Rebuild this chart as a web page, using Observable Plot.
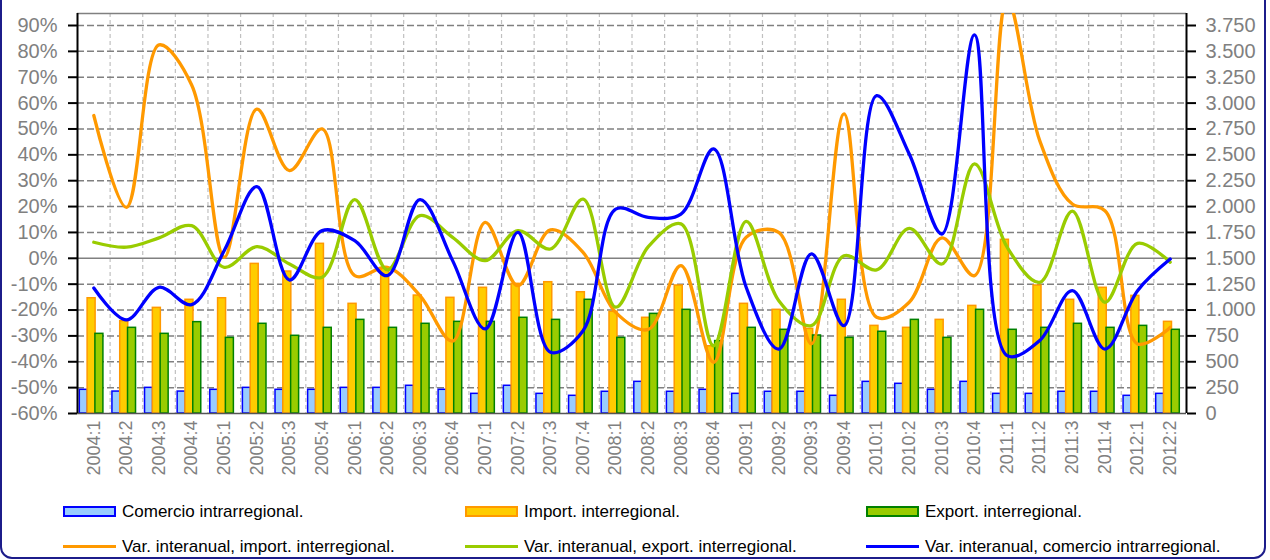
<!DOCTYPE html>
<html>
<head>
<meta charset="utf-8">
<script src="https://cdn.jsdelivr.net/npm/d3@7"></script>
<script src="https://cdn.jsdelivr.net/npm/@observablehq/plot@0.6"></script>
<style>
  html, body { margin: 0; padding: 0; background: #fff; }
  #wrap { position: relative; width: 1270px; height: 560px; overflow: hidden; font-family: "Liberation Sans", Arial, sans-serif; }
  #border { position: absolute; left: 0; top: -20px; width: 1266px; height: 579px; border: 2px solid #1c1c8a; border-radius: 12px; box-sizing: border-box; pointer-events: none; }
  #chart { position: absolute; left: 0; top: 0; }
  .leg { position: absolute; font-size: 17px; color: #000; white-space: nowrap; line-height: 18px; }
  .sw { position: absolute; box-sizing: border-box; }
</style>
</head>
<body>
<div id="wrap">
  <div id="chart"></div>
  <div id="legend"></div>
  <div id="border"></div>
</div>
<script>
// ---- data ----
const quarters = ["2004:1","2004:2","2004:3","2004:4","2005:1","2005:2","2005:3","2005:4",
  "2006:1","2006:2","2006:3","2006:4","2007:1","2007:2","2007:3","2007:4",
  "2008:1","2008:2","2008:3","2008:4","2009:1","2009:2","2009:3","2009:4",
  "2010:1","2010:2","2010:3","2010:4","2011:1","2011:2","2011:3","2011:4",
  "2012:1","2012:2"];

// bars (right axis)
const comercioIntra = [229,212,248,212, 229,248,229,229, 248,248,268,229, 190,268,190,171,
  210,306,210,229, 190,210,210,171, 306,287,229,306, 190,190,210,210, 171,190];
const importInter = [1114,892,1021,1099, 1114,1446,1372,1640, 1060,1400,1140,1118, 1215,1253,1269,1172,
  983,925,1237,650, 1060,1002,818,1099, 847,828,905,1040, 1679,1237,1099,1215, 1137,886];
const exportInter = [770,828,770,883, 731,867,751,828, 905,828,867,886, 886,925,905,1099,
  731,963,1002,700, 828,809,754,731, 790,905,731,1002, 809,828,867,828, 847,809];

// lines (left axis, %)
const varImport = [55.2,19.7,82.5,67, 0.4,57.7,33.9,50, -6.7,-3.5,-14.4,-32, 13.9,-10.6,11,2.3,
  -20.9,-27.5,-2.8,-40.2, 8.1,10,-33.1,55.8, -22.8,-17,7.9,-6.7, 100,45.5,21,18.4, -33.1,-26.7];
const varExport = [6.2,4.3,7.9,12.6, -3.5,4.5,-2.2,-7.3, 22.7,-4.5,16.5,8.1, -0.9,10.7,3.6,22.9,
  -18.9,4.5,13.3,-33.8, 14.3,-16.4,-26,1, -4.5,11.6,-2.2,36.5, 4.3,-9.3,18.2,-17, 5.8,-1.5];
const varIntra = [-11.5,-23.8,-11.2,-17.9, 3,27.7,-8.4,10.7, 6.8,-6.7,22.7,-0.9, -27.3,10,-36.3,-28,
  19,15.8,17.1,42.3, -11.2,-35.1,1.7,-26, 62.9,40.3,9.4,86.4, -37.6,-31.8,-12.5,-35.1, -12.5,-0.3];

const leftTicks = d3.range(-60, 91, 10);
const rightTicks = d3.range(0, 3751, 250);

// ---- layout ----
const W = 1270, H = 490;
const mL = 77, mR = 84, mT = 13, mB = 77;
const bw = (W - mL - mR) / quarters.length;
const yMin = -60, yMax = 94.64;
// right axis (0..3750) mapped onto left axis (-60..90)
const toPct = v => v / 25 - 60;
const fromPct = p => Math.round((p + 60) * 25);
const fmtR = d3.formatLocale({decimal: ",", thousands: ".", grouping: [3], currency: ["", ""]}).format(",");

const rows = quarters.map((q, i) => ({
  q, intra: comercioIntra[i], imp: importInter[i], exp: exportInter[i],
  vImp: varImport[i], vExp: varExport[i], vIntra: varIntra[i]
}));

const barW = 8;
const inset = (bw - barW) / 2;
const barOpts = (field, dx, fill, stroke) => ({
  x: "q", y1: () => yMin, y2: d => toPct(d[field]), dx, insetLeft: inset, insetRight: inset,
  fill, stroke, strokeWidth: 1.5
});

const gray = "#808080";
const chart = Plot.plot({
  width: W, height: H,
  marginLeft: mL, marginRight: mR, marginTop: mT, marginBottom: mB,
  style: {fontFamily: "'Liberation Sans', Arial, sans-serif", background: "#fff", overflow: "visible"},
  x: {domain: quarters, padding: 0, type: "band", round: false},
  y: {domain: [yMin, yMax]},
  marks: [
    // vertical grid (band boundaries)
    Plot.ruleX(quarters.slice(1), {dx: -bw / 2, stroke: "#c0c0c0", strokeWidth: 1.2, strokeDasharray: "4,3"}),
    // horizontal grid
    Plot.ruleY(leftTicks.filter(d => d !== 0 && d !== -60), {stroke: gray, strokeWidth: 1.5, strokeDasharray: "7,3"}),
    Plot.ruleY([0], {stroke: gray, strokeWidth: 1.5}),
    Plot.ruleY([yMax], {stroke: gray, strokeWidth: 1.5}),
    // bars
    Plot.rectY(rows, barOpts("intra", -10, "#99ccff", "#0000ff")),
    Plot.rectY(rows, barOpts("imp", -2.2, "#ffcc00", "#ff9900")),
    Plot.rectY(rows, barOpts("exp", 5.6, "#99cc00", "#008000")),
    Plot.ruleY([yMin], {stroke: "#555", strokeWidth: 1.5}),
    // lines
    Plot.line(rows, {x: "q", y: "vImp", stroke: "#ff9900", strokeWidth: 3.3, curve: "catmull-rom", clip: true}),
    Plot.line(rows, {x: "q", y: "vExp", stroke: "#99cc00", strokeWidth: 3.3, curve: "catmull-rom", clip: true}),
    Plot.line(rows, {x: "q", y: "vIntra", stroke: "#0000ff", strokeWidth: 3.3, curve: "catmull-rom", clip: true}),
    // axis lines
    Plot.ruleX([quarters[0]], {dx: -bw / 2, stroke: "#000", strokeWidth: 2}),
    Plot.ruleX([quarters[quarters.length - 1]], {dx: bw / 2, stroke: "#000", strokeWidth: 2}),
    // axes
    Plot.axisY(leftTicks, {anchor: "left", tickFormat: d => d + "%", tickSize: 9, tickPadding: 11,
      fontSize: 20, stroke: "#000", strokeWidth: 2, fill: gray, label: null}),
    Plot.axisY(rightTicks.map(toPct), {anchor: "right", tickFormat: d => fmtR(fromPct(d)), tickSize: 9, tickPadding: 10,
      fontSize: 20, stroke: "#000", strokeWidth: 2, fill: gray, label: null}),
    Plot.axisX({tickRotate: -90, tickSize: 0, tickPadding: 7, fontSize: 18, fill: gray, label: null})
  ]
});
document.getElementById("chart").appendChild(chart);

// ---- legend ----
const legendItems = [
  {label: "Comercio intrarregional.", kind: "box", fill: "#99ccff", stroke: "#0000ff", x: 63, y: 503},
  {label: "Import. interregional.", kind: "box", fill: "#ffcc00", stroke: "#ff9900", x: 465, y: 503},
  {label: "Export. interregional.", kind: "box", fill: "#99cc00", stroke: "#008000", x: 866, y: 503},
  {label: "Var. interanual, import. interregional.", kind: "line", stroke: "#ff9900", x: 63, y: 538},
  {label: "Var. interanual, export. interregional.", kind: "line", stroke: "#99cc00", x: 465, y: 538},
  {label: "Var. interanual, comercio intrarregional.", kind: "line", stroke: "#0000ff", x: 866, y: 538}
];
const leg = document.getElementById("legend");
for (const it of legendItems) {
  const sw = document.createElement("div");
  sw.className = "sw";
  sw.style.left = it.x + "px";
  sw.style.width = "53px";
  if (it.kind === "box") {
    sw.style.top = (it.y + 3) + "px";
    sw.style.height = "11px";
    sw.style.background = it.fill;
    sw.style.border = "2px solid " + it.stroke;
  } else {
    sw.style.top = (it.y + 7) + "px";
    sw.style.height = "3px";
    sw.style.background = it.stroke;
  }
  leg.appendChild(sw);
  const t = document.createElement("div");
  t.className = "leg";
  t.style.left = (it.x + 59) + "px";
  t.style.top = it.y + "px";
  t.textContent = it.label;
  leg.appendChild(t);
}
</script>
</body>
</html>
